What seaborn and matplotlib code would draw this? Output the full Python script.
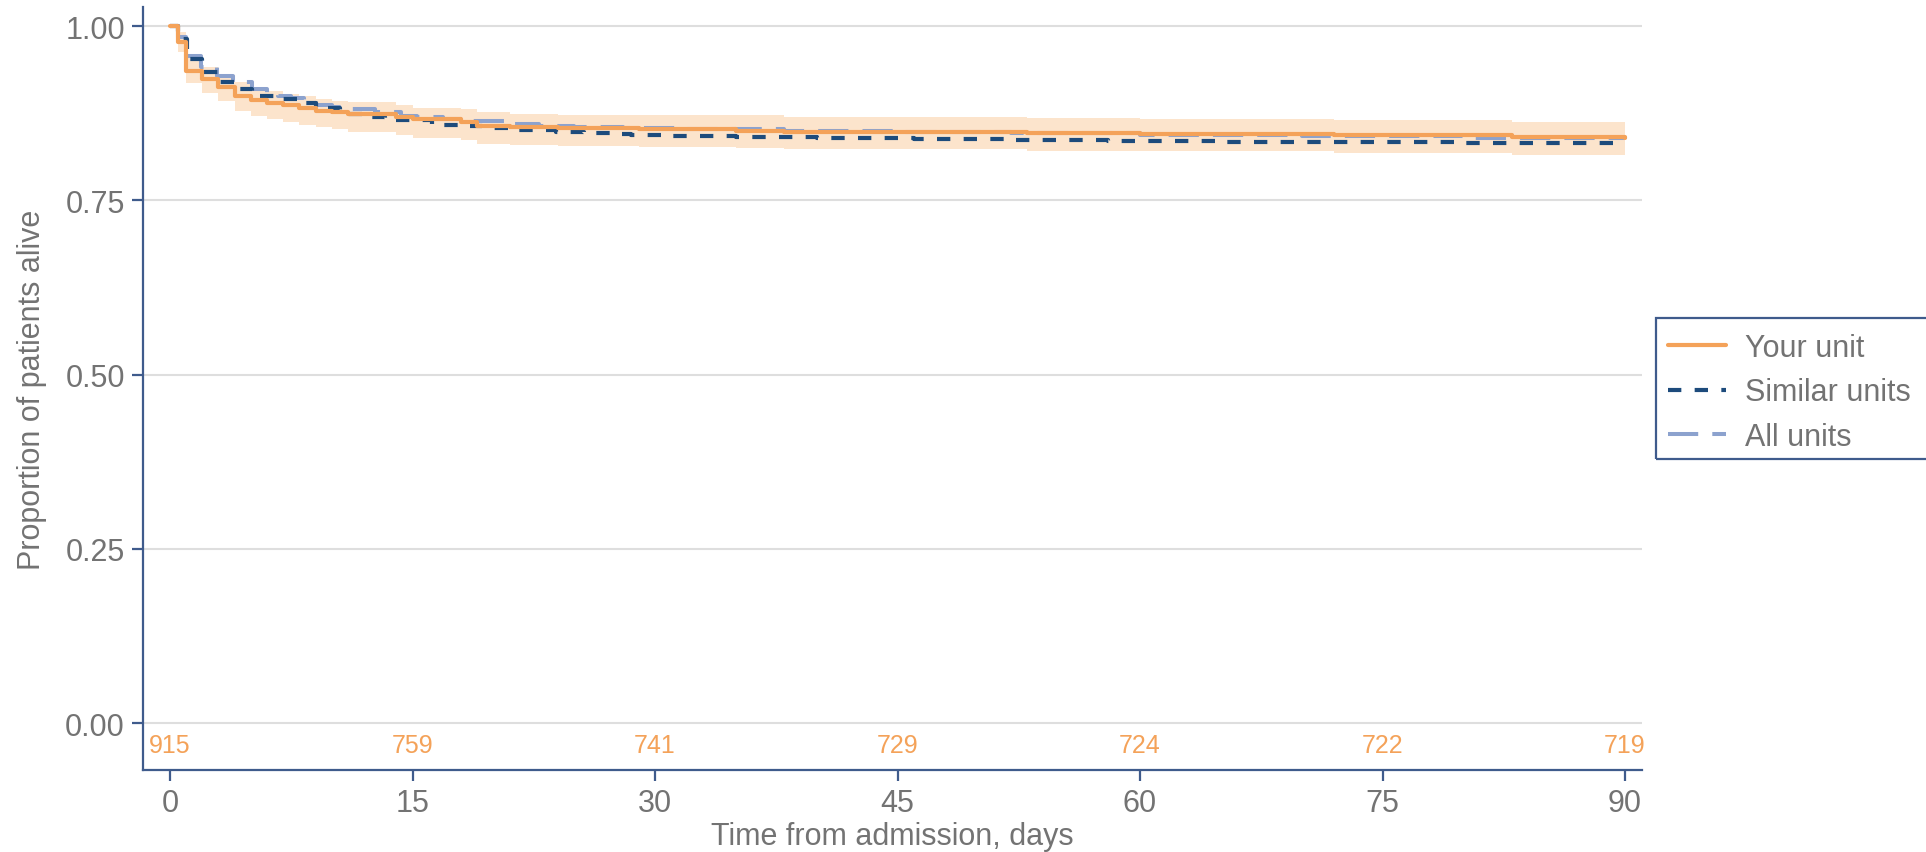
import numpy as np
import pandas as pd
import matplotlib
matplotlib.use("Agg")
import matplotlib.pyplot as plt
from matplotlib.patches import Rectangle
import seaborn as sns

# Kaplan-Meier step data (time in days, survival proportion)
your_t = [0, 0.5, 1, 2, 3, 4, 5, 6, 7, 8, 9, 10, 11, 14, 15, 18, 19, 21, 24, 29, 35, 38, 53, 60, 72, 83, 90]
your_s = [1.0, .977, .936, .924, .912, .900, .894, .889, .886, .883, .878, .876, .874, .869, .866,
          .862, .857, .855, .853, .852, .850, .848, .846, .845, .843, .841, .840]
your_lo = [1.0, .963, .918, .904, .893, .878, .871, .867, .862, .858, .855, .852, .848, .843, .839,
           .836, .831, .829, .828, .827, .825, .823, .821, .820, .818, .815, .815]
your_hi = [1.0, .991, .957, .941, .930, .920, .912, .907, .902, .899, .895, .893, .891, .887, .883,
           .881, .876, .874, .873, .873, .872, .870, .868, .867, .865, .863, .863]

similar_t = [0, 0.5, 1.05, 2, 3, 4.1, 5.1, 6.5, 8, 9, 10.5, 12, 13.3, 16.2, 18, 19.3, 21.2, 23.9,
             25.6, 27.2, 28.5, 31, 35, 40, 46, 52, 58, 65, 72, 80, 90]
similar_s = [1.0, .981, .953, .934, .920, .910, .900, .896, .889, .883, .874, .869, .865, .858, .856,
             .853, .851, .848, .847, .845, .844, .842, .841, .839, .838, .836, .835, .834, .833, .832, .831]

all_t = [0, 0.5, 1, 1.9, 2.9, 3.9, 5.1, 6, 6.7, 7.5, 8.3, 9, 10, 11, 12.7, 14.3, 15.3, 16.9, 18.1,
         20.9, 22.8, 25, 28, 32, 38, 45, 52, 60, 70, 80, 90]
all_s = [1.0, .984, .957, .941, .928, .920, .910, .903, .900, .897, .893, .886, .884, .881, .877,
         .871, .869, .867, .864, .859, .857, .855, .854, .852, .850, .848, .846, .844, .842, .840, .838]

risk_days = [0, 15, 30, 45, 60, 75, 90]
risk_n = [915, 759, 741, 729, 724, 722, 719]

ORANGE = "#F4A259"
NAVY = "#1D4B7C"
LIGHTBLUE = "#8CA2CE"
BAND = "#FCE4CC"
AXIS = "#3F5B8C"
GREY = "#737373"

sns.set_theme(style="white")
plt.rcParams["font.family"] = ["Liberation Sans", "DejaVu Sans"]

fig = plt.figure(figsize=(19.26, 8.53), dpi=100)
ax = fig.add_axes([143 / 1926, 82 / 853, 1499 / 1926, 763 / 853])

# confidence band of your unit
ax.fill_between(your_t, your_lo, your_hi, step="post", color=BAND, lw=0, zorder=1)

df_all = pd.DataFrame({"t": all_t, "s": all_s})
df_sim = pd.DataFrame({"t": similar_t, "s": similar_s})
df_you = pd.DataFrame({"t": your_t, "s": your_s})

sns.lineplot(data=df_all, x="t", y="s", ax=ax, color=LIGHTBLUE, lw=2.9,
             linestyle=(0, (7.5, 3.5)), drawstyle="steps-post", estimator=None,
             label="All units", zorder=2)
sns.lineplot(data=df_sim, x="t", y="s", ax=ax, color=NAVY, lw=3.0,
             linestyle=(0, (3.2, 3.2)), drawstyle="steps-post", estimator=None,
             label="Similar units", zorder=3)
sns.lineplot(data=df_you, x="t", y="s", ax=ax, color=ORANGE, lw=3.0,
             drawstyle="steps-post", estimator=None, label="Your unit", zorder=4)

# numbers at risk
for d, n in zip(risk_days, risk_n):
    ax.text(d, -0.032, str(n), ha="center", va="center", color=ORANGE, fontsize=18)

ax.set_xlim(-1.67, 91.05)
ax.set_ylim(-0.0674, 1.0273)
ax.set_xticks(risk_days)
ax.set_yticks([0, 0.25, 0.5, 0.75, 1.0])
ax.set_yticklabels(["0.00", "0.25", "0.50", "0.75", "1.00"])

ax.yaxis.grid(True, color="#DEDEDE", lw=1.5)
ax.xaxis.grid(False)
ax.set_axisbelow(True)

for side in ["top", "right"]:
    ax.spines[side].set_visible(False)
for side in ["left", "bottom"]:
    ax.spines[side].set_color(AXIS)
    ax.spines[side].set_linewidth(1.6)

ax.tick_params(axis="both", which="major", length=8, width=1.6, color=AXIS,
               labelcolor=GREY, labelsize=22, pad=5, left=True, bottom=True)

ax.set_xlabel("Time from admission, days", fontsize=22, color=GREY, labelpad=2)
ax.set_ylabel("Proportion of patients alive", fontsize=22, color=GREY, labelpad=13)

# legend (frame drawn separately so it runs off the right edge like the reference)
handles, labels = ax.get_legend_handles_labels()
order = [labels.index(l) for l in ["Your unit", "Similar units", "All units"]]
ax.legend([handles[i] for i in order], [labels[i] for i in order],
          loc="upper left", bbox_to_anchor=(1668 / 1926, (853 - 334) / 853),
          bbox_transform=fig.transFigure, frameon=False, borderaxespad=0, borderpad=0,
          fontsize=22, labelcolor=GREY, handlelength=1.9, handletextpad=0.62,
          labelspacing=0.47)
fig.patches.append(Rectangle((1656 / 1926, (853 - 460) / 853), 300 / 1926, 141 / 853,
                             transform=fig.transFigure, fill=False, edgecolor=AXIS, lw=1.6))

fig.savefig("out.png", dpi=100)
